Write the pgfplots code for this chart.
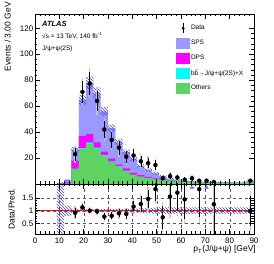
\documentclass[border=0pt]{standalone}
\usepackage{pgfplots}
\pgfplotsset{compat=1.18}
\usepackage{pgfplotstable}
\usetikzlibrary{patterns}
\usepackage{fontspec}
\setmainfont{Liberation Sans}
\definecolor{spsc}{RGB}{153,153,255}
\definecolor{dpsc}{RGB}{255,0,255}
\definecolor{bbc}{RGB}{0,255,255}
\definecolor{othc}{RGB}{95,211,95}
\definecolor{hatchc}{RGB}{70,70,210}

\pgfplotstableread{
x c1 c2 c3 c4
9 0 0 0.1 0.7
12 0.3 0.3 1.5 3.0
15 11.5 11.8 18 26.5
18 27 27.7 37 65
21 31 32 38.5 78
24 27 28 32 70
27 21.5 22.3 25 56
30 17 17.5 19.5 43
33 13.3 13.7 15 32.5
36 10 10.3 12 24.5
39 7 7.3 8.5 19.5
42 5.5 5.7 6.8 14
45 4.5 4.7 5.5 11
48 3.5 3.6 4.3 8.2
51 3 3.1 3.6 6
54 2.4 2.5 2.9 4.2
57 2.0 2.1 2.4 3.1
60 1.7 1.8 2.0 2.4
63 1.5 1.5 1.7 2.0
66 1.3 1.3 1.4 1.6
69 1.2 1.2 1.3 1.4
72 1.1 1.1 1.2 1.3
75 1.0 1.0 1.1 1.2
78 0.9 0.9 1.0 1.1
81 0.9 0.9 1.0 1.0
84 0.8 0.8 0.9 1.0
87 1.5 1.5 1.7 2.6
90 1.5 1.5 1.7 2.6
}\pred

\pgfplotstableread{
x y ey gy
16.5 23 5 6.5
19.5 71 8.5 11
22.5 77.5 9 11.5
25.5 64 8 10.5
28.5 42 6.8 8.8
31.5 34 6 7.8
34.5 28 5.5 7
37.5 21 4.6 6
40.5 22 4.7 6
43.5 17.5 4.2 5.4
46.5 16 4 5.2
49.5 14.6 3.8 5
52.5 4.4 2.1 2.7
55.5 6 2.5 3.2
58.5 5 2.2 2.9
61.5 3.3 1.8 2.3
64.5 4.4 2.1 2.7
67.5 2.5 1.6 2.1
70.5 2.5 1.6 2.1
73.5 1.5 1.2 1.6
88.5 2.5 1.6 2.1
}\data

\pgfplotstableread{
x r er gr
16.5 0.92 0.2 0.26
19.5 1.13 0.12 0.16
22.5 1.0 0.1 0.13
25.5 0.97 0.1 0.13
28.5 0.77 0.12 0.16
31.5 0.8 0.14 0.18
34.5 0.9 0.16 0.21
37.5 0.87 0.19 0.25
40.5 1.16 0.22 0.29
43.5 1.26 0.3 0.39
46.5 1.46 0.35 0.46
49.5 1.84 0.45 0.58
52.5 0.74 0.45 0.58
55.5 1.55 0.65 0.85
58.5 1.7 0.7 0.9
61.5 1.44 0.75 0.97
67.5 1.84 1.1 1.4
73.5 1.25 1.2 1.5
88.5 0.99 0.6 0.78
}\ratio

\pgfplotsset{
  atlas/.style={
    scale only axis, width=219pt, xmin=0, xmax=90,
    tick align=inside, xtick pos=both, ytick pos=both,
    major tick length=5pt, minor tick length=2.5pt,
    tick style={black, line width=0.4pt},
    axis line style={line width=0.5pt},
    axis on top,
    xtick={0,10,...,90}, minor x tick num=4,
    ticklabel style={font=\fontsize{8}{9}\selectfont},
    /pgf/number format/assume math mode=true,
  }
}

\begin{document}
\begin{tikzpicture}
\path[use as bounding box] (-35pt,-80pt) rectangle (239pt,184pt);
\begin{axis}[atlas, name=top, at={(0,0)}, anchor=south west,
  height=170pt, ymin=0, ymax=131,
  xticklabels={},
  ytick={20,40,...,120}, minor y tick num=4,
  yticklabel style={inner sep=1.5pt},
  legend style={at={(0.645,0.948)}, anchor=north west, draw=none, fill=none,
    font=\fontsize{6.5}{7}\selectfont, row sep=4.6pt, inner sep=0pt,
    nodes={inner sep=1.2pt, anchor=west}},
  legend cell align=left,
]
\addlegendimage{legend image code/.code={\draw[black,line width=0.5pt] (6.5pt,-5pt)--(6.5pt,5pt); \fill[black] (6.5pt,0pt) circle (1.3pt);}}
\addlegendentry{Data}
\addlegendimage{legend image code/.code={\fill[spsc] (0pt,-5pt) rectangle (13pt,5pt);}}
\addlegendentry{SPS}
\addlegendimage{legend image code/.code={\fill[dpsc] (0pt,-5pt) rectangle (13pt,5pt);}}
\addlegendentry{DPS}
\addlegendimage{legend image code/.code={\fill[bbc] (0pt,-5pt) rectangle (13pt,5pt);}}
\addlegendentry{b\={b}→J/ψ+ψ(2S)+X}
\addlegendimage{legend image code/.code={\fill[othc] (0pt,-5pt) rectangle (13pt,5pt);}}
\addlegendentry{Others}

\addplot[forget plot, ybar interval, fill=spsc, draw=none] table[x=x,y=c4]{\pred};
\addplot[forget plot, ybar interval, fill=dpsc, draw=none] table[x=x,y=c3]{\pred};
\addplot[forget plot, ybar interval, fill=bbc, draw=none] table[x=x,y=c2]{\pred};
\addplot[forget plot, ybar interval, fill=othc, draw=none] table[x=x,y=c1]{\pred};
% uncertainty band: upper edges forward, lower edges backward
\addplot[forget plot, const plot mark left, draw=none, pattern=north west lines, pattern color=hatchc] coordinates {
(9,1.5)(12,3.6)(15,28.6)(18,68.9)(21,82.7)(24,74.2)(27,59.4)(30,46.0)(33,34.8)(36,26.5)(39,21.1)(42,15.3)(45,12.1)(48,9.2)(51,6.8)(54,4.8)(57,3.5)(60,2.8)(63,2.3)(66,1.8)(69,1.6)(72,1.5)(75,1.4)(78,1.3)(81,1.15)(84,1.15)(87,2.9)(90,2.9)
(90,2.3)(87,0.85)(84,0.85)(81,0.9)(78,1.0)(75,1.1)(72,1.2)(69,1.4)(66,1.7)(63,2.0)(60,2.7)(57,3.6)(54,5.2)(51,7.2)(48,9.9)(45,12.7)(42,17.9)(39,22.5)(36,30.2)(33,40.0)(30,52.6)(27,65.8)(24,73.3)(21,61.1)(18,24.4)(15,2.4)(12,0)(9,0)};
\addplot[forget plot, only marks, mark=none, error bars/.cd, y dir=both, y explicit,
  error mark=none, error bar style={gray!45, line width=1.3pt}] table[x=x,y=y,y error=gy]{\data};
\addplot[forget plot, only marks, mark=*, mark size=1.2pt, black, error bars/.cd, y dir=both, y explicit,
  error mark=none, error bar style={black, line width=0.5pt}] table[x=x,y=y,y error=ey]{\data};
\end{axis}

\begin{axis}[atlas, name=bot, at={(top.south west)}, anchor=north west,
  height=50pt, ymin=0.09, ymax=2.04,
  xticklabels={0,10,20,30,40,50,60,70,80,90},
  ytick={0.5,1,1.5}, yticklabels={0.5,1,1.5}, minor y tick num=4,
  yticklabel style={inner sep=1.5pt},
  grid=major, major grid style={dashed, black!65, line width=0.3pt},
]
\addplot[forget plot, const plot mark left, draw=none, pattern=north west lines, pattern color=hatchc] coordinates {
(9,2.03)(12,1.2)(15,1.08)(18,1.06)(30,1.07)(36,1.08)(42,1.09)(45,1.10)(48,1.12)(51,1.13)(87,1.12)(90,1.12)
(90,0.88)(87,0.87)(51,0.88)(48,0.90)(45,0.91)(42,0.92)(36,0.93)(30,0.94)(18,0.92)(15,0.8)(12,0.1)(9,0.1)};
\addplot[forget plot, red, line width=0.7pt] coordinates {(0,1) (90,1)};
\addplot[forget plot, only marks, mark=none, error bars/.cd, y dir=both, y explicit,
  error mark=none, error bar style={gray!45, line width=1.3pt}] table[x=x,y=r,y error=gr]{\ratio};
\addplot[forget plot, only marks, mark=*, mark size=1.2pt, black, error bars/.cd, y dir=both, y explicit,
  error mark=none, error bar style={black, line width=0.5pt}] table[x=x,y=r,y error=er]{\ratio};
\addplot[forget plot, only marks, mark=triangle*, mark size=2.2pt, color=spsc!80!blue] coordinates {(64.5,1.9) (70.5,1.9)};
\end{axis}

\node[anchor=base west, inner sep=0pt, font=\fontsize{7.5}{8}\selectfont\bfseries\itshape] at ([xshift=7pt,yshift=-13pt]top.north west) {ATLAS};
\node[anchor=base west, inner sep=0pt, font=\fontsize{6.5}{7}\selectfont] at ([xshift=7pt,yshift=-24.5pt]top.north west) {√s = 13 TeV, 140 fb\textsuperscript{-1}};
\node[anchor=base west, inner sep=0pt, font=\fontsize{6.5}{7}\selectfont] at ([xshift=7pt,yshift=-37pt]top.north west) {J/ψ+ψ(2S)};
\node[rotate=90, anchor=south east, inner sep=0pt, font=\fontsize{8.5}{9}\selectfont] at ([xshift=-24pt,yshift=12pt]top.north west) {Events / 3.00 GeV};
\node[rotate=90, anchor=south, inner sep=0pt, font=\fontsize{8.5}{9}\selectfont] at ([xshift=-20pt]bot.west) {Data/Pred.};
\node[anchor=north east, inner sep=0pt, font=\fontsize{8.5}{9}\selectfont] at ([xshift=2pt,yshift=-11.5pt]bot.south east) {p\textsubscript{T}(J/ψ+ψ) [GeV]};
\end{tikzpicture}
\end{document}
